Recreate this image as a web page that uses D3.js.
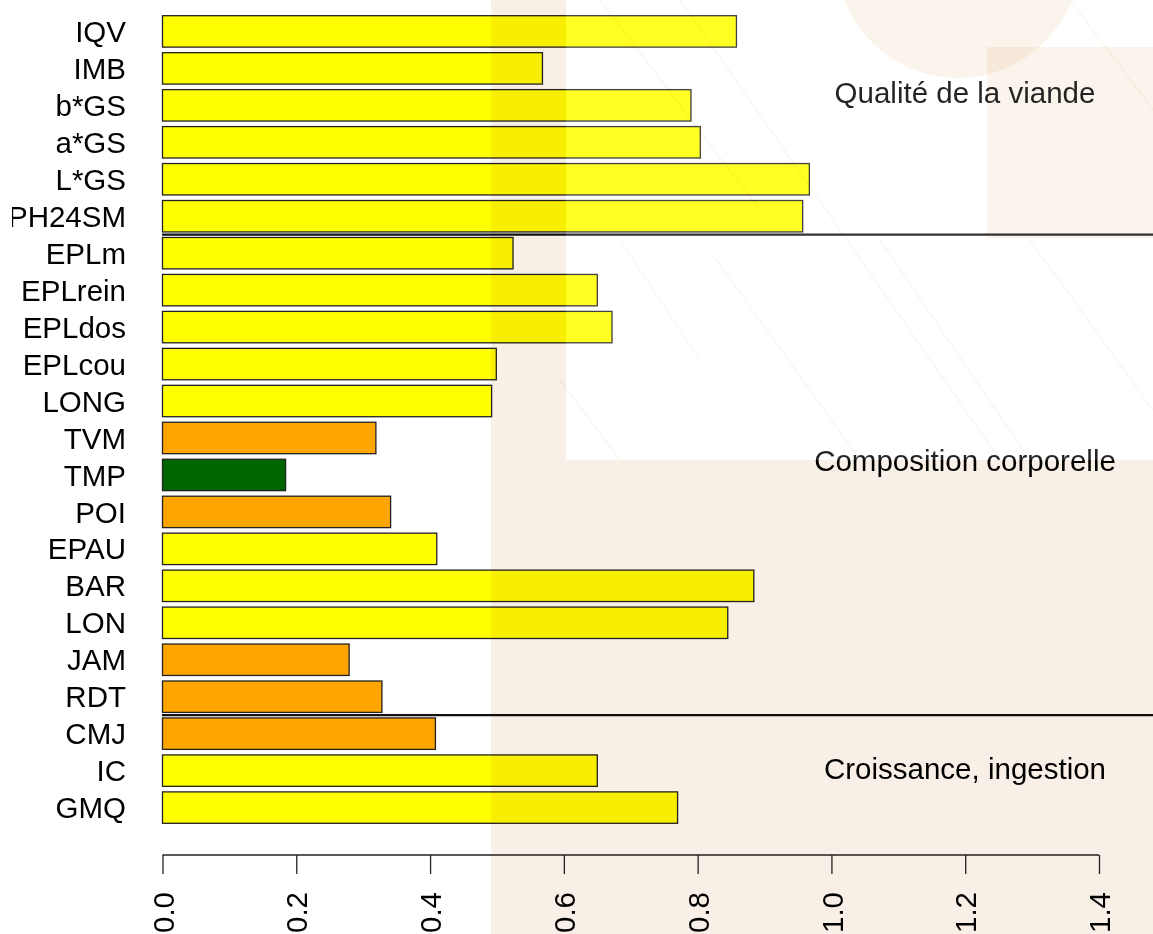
<!DOCTYPE html>
<html>
<head>
<meta charset="utf-8">
<script src="https://cdn.jsdelivr.net/npm/d3@7"></script>
<style>
  body { margin: 0; background: #fff; }
  svg { display: block; font-family: "Liberation Sans", Arial, sans-serif; }
  .axis text { font-size: 29.5px; fill: #000; }
</style>
</head>
<body>
<div id="chart-area"></div>
<script>
var width = 1153;
var height = 934;

// categories, top to bottom
var traits = ["IQV", "IMB", "b*GS", "a*GS", "L*GS", "PH24SM", "EPLm", "EPLrein", "EPLdos", "EPLcou",
  "LONG", "TVM", "TMP", "POI", "EPAU", "BAR", "LON", "JAM", "RDT", "CMJ", "IC", "GMQ"];
var values = [0.858, 0.568, 0.790, 0.804, 0.967, 0.957, 0.524, 0.650, 0.672, 0.499,
  0.492, 0.319, 0.184, 0.341, 0.410, 0.884, 0.845, 0.279, 0.328, 0.408, 0.650, 0.770];
var classes = ["y", "y", "y", "y", "y", "y", "y", "y", "y", "y",
  "y", "o", "g", "o", "y", "y", "y", "o", "o", "o", "y", "y"];
var groups = ["Qualité de la viande", "Composition corporelle", "Croissance, ingestion"];
// separators drawn below these traits
var breaks = ["PH24SM", "RDT"];
var xTicks = [0, 0.2, 0.4, 0.6, 0.8, 1.0, 1.2, 1.4];

var fillOf = { y: "#ffff00", o: "#ffa500", g: "#006400" };

var svg = d3.select("#chart-area").append("svg")
  .attr("width", width)
  .attr("height", height);

var x = d3.scaleLinear().domain([0, 1.4]).range([162.5, 1099]);
var y = d3.scaleBand().domain(traits).range([15.7, 823.3]).paddingInner(0.15).paddingOuter(0);

var g = svg.append("g");

// bars
g.selectAll("rect.bar")
  .data(traits)
  .enter().append("rect")
  .attr("class", "bar")
  .attr("x", x(0))
  .attr("y", function(d) { return y(d); })
  .attr("width", function(d, i) { return x(values[i]) - x(0); })
  .attr("height", y.bandwidth())
  .attr("fill", function(d, i) { return fillOf[classes[i]]; })
  .attr("stroke", "#222")
  .attr("stroke-width", 1.3);

// group separators
var gap = y.step() - y.bandwidth();
g.selectAll("line.sep")
  .data(breaks)
  .enter().append("line")
  .attr("class", "sep")
  .attr("x1", x(0) - 0.5)
  .attr("x2", width)
  .attr("y1", function(d) { return y(d) + y.bandwidth() + gap / 2; })
  .attr("y2", function(d) { return y(d) + y.bandwidth() + gap / 2; })
  .attr("stroke", "#111")
  .attr("stroke-width", 2.2);

// category labels (left), clipped at the left edge like the original
svg.append("clipPath").attr("id", "lab-clip")
  .append("rect").attr("x", 12).attr("y", 0).attr("width", 200).attr("height", height);

var yAxis = d3.axisLeft(y).tickSize(0).tickPadding(0);
g.append("g")
  .attr("clip-path", "url(#lab-clip)")
  .append("g")
  .attr("class", "axis")
  .attr("transform", "translate(126,0)")
  .call(yAxis)
  .call(function(s) { s.select(".domain").remove(); })
  .selectAll("text")
  .attr("x", 0)
  .attr("dy", "0.36em");

// x axis
var xAxis = d3.axisBottom(x)
  .tickValues(xTicks)
  .tickSize(19)
  .tickFormat(d3.format(".1f"));

var xg = g.append("g")
  .attr("class", "axis")
  .attr("transform", "translate(0,855)")
  .call(xAxis);
xg.select(".domain").attr("stroke", "#222").attr("stroke-width", 1.3)
  .attr("d", "M" + x(0) + ",0H" + x(1.4));
xg.selectAll(".tick line").attr("stroke", "#222").attr("stroke-width", 1.3);
xg.selectAll(".tick text")
  .attr("text-anchor", "end")
  .attr("transform", "rotate(-90)")
  .attr("x", -37)
  .attr("y", 0)
  .attr("dy", "0.36em");

// group names
var groupY = [103, 471, 779];
g.selectAll("text.grp")
  .data(groups)
  .enter().append("text")
  .attr("class", "grp")
  .attr("x", 965)
  .attr("y", function(d, i) { return groupY[i]; })
  .attr("text-anchor", "middle")
  .style("font-size", "29.5px")
  .text(function(d) { return d; });

// watermark overlay
var wm = svg.append("g").style("pointer-events", "none");
wm.append("path")
  .attr("d", "M491,0H566V460H" + width + "V" + height + "H491Z")
  .attr("fill", "#f8efe6")
  .style("mix-blend-mode", "multiply");
wm.append("rect")
  .attr("x", 566).attr("y", 0).attr("width", width - 566).attr("height", 460)
  .attr("fill", "#fff").attr("opacity", 0.14);
wm.append("circle")
  .attr("cx", 958).attr("cy", -44).attr("r", 122)
  .attr("fill", "#fbf4ec")
  .style("mix-blend-mode", "multiply");
wm.append("rect")
  .attr("x", 987).attr("y", 47).attr("width", width - 987).attr("height", 191)
  .attr("fill", "#fbf4ec")
  .style("mix-blend-mode", "multiply");

var diag = [[600, 0, 760, 210], [680, 0, 1000, 460], [715, 258, 860, 460], [880, 240, 1030, 460],
  [1070, 0, 1153, 110], [1030, 240, 1153, 410], [620, 240, 700, 360], [560, 380, 620, 460]];
wm.selectAll("line.diag")
  .data(diag)
  .enter().append("line")
  .attr("x1", function(d) { return d[0]; })
  .attr("y1", function(d) { return d[1]; })
  .attr("x2", function(d) { return d[2]; })
  .attr("y2", function(d) { return d[3]; })
  .attr("stroke", "#fbf6f1")
  .attr("stroke-width", 1.5)
  .style("mix-blend-mode", "multiply");
</script>
</body>
</html>
